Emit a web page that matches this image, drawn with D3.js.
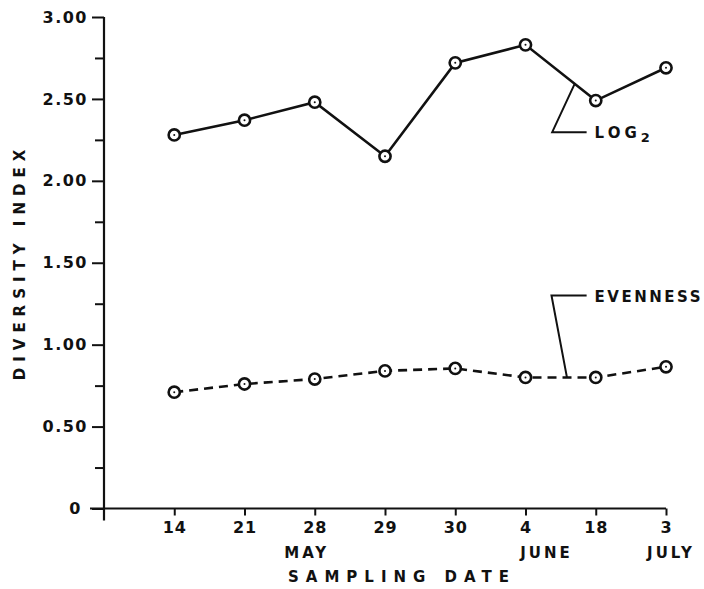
<!doctype html>
<html lang="en">
<head>
<meta charset="UTF-8">
<title>Diversity Index by Sampling Date</title>
<script src="https://d3js.org/d3.v7.min.js"></script>
<style>
    body { margin: 0; background: #fff; }
    svg { display: block; }
    text { font-family: "DejaVu Sans", sans-serif; font-weight: bold; fill: #111; }
    .axis path, .axis line { stroke: #111; stroke-width: 2; }
</style>
</head>
<body>
<svg width="704" height="589"></svg>
<script>
    // sampling dates (tick labels) and months under them
    const dates = ["14", "21", "28", "29", "30", "4", "18", "3"];
    const months = ["MAY", "JUNE", "JULY"];
    const monthAt = [3, 6, 8];          // tick position each month sits under

    // series
    const log2 = [2.28, 2.37, 2.48, 2.15, 2.72, 2.83, 2.49, 2.69];
    const evenness = [0.71, 0.76, 0.79, 0.84, 0.855, 0.80, 0.80, 0.865];

    const yMajor = [0, 0.5, 1, 1.5, 2, 2.5, 3];
    const yMinor = [0.25, 0.75, 1.25, 1.75, 2.25, 2.75];
    const yLabels = ["0", "0.50", "1.00", "1.50", "2.00", "2.50", "3.00"];

    const svg = d3.select("svg");
    const x = d3.scaleLinear().domain([0, 8]).range([104, 666]);
    const y = d3.scaleLinear().domain([0, 3]).range([508.5, 17]);

    // y axis: major ticks with labels
    const gy = svg.append("g").attr("class", "axis").attr("transform", `translate(${x(0)},0)`)
        .call(d3.axisLeft(y).tickValues(yMajor).tickSize(12).tickPadding(4)
            .tickFormat((d, i) => yLabels[i]));
    gy.select(".domain").remove();
    gy.selectAll("text").style("font-size", "16px").style("letter-spacing", "1.5px");
    gy.selectAll(".tick").filter(d => d === 0).select("text").attr("x", -22);

    const gyMinor = svg.append("g").attr("class", "axis").attr("transform", `translate(${x(0)},0)`)
        .call(d3.axisLeft(y).tickValues(yMinor).tickSize(9).tickFormat(""));
    gyMinor.select(".domain").remove();

    svg.append("line")
        .attr("x1", x(0)).attr("x2", x(0))
        .attr("y1", y(3)).attr("y2", y(0) + 12)
        .attr("stroke", "#111").attr("stroke-width", 2.2);

    // x axis
    const gx = svg.append("g").attr("class", "axis").attr("transform", `translate(0,${y(0)})`)
        .call(d3.axisBottom(x).tickValues(d3.range(1, 9)).tickSize(7).tickPadding(6)
            .tickFormat((d, i) => dates[i]));
    gx.select(".domain").remove();
    gx.selectAll("text").style("font-size", "16px").style("letter-spacing", "1px");

    svg.append("line")
        .attr("x1", x(0) - 14).attr("x2", x(8))
        .attr("y1", y(0)).attr("y2", y(0))
        .attr("stroke", "#111").attr("stroke-width", 2.2);

    const monthShift = [-8, 21, 5];
    svg.selectAll(".month").data(months).join("text")
        .attr("class", "month")
        .attr("x", (d, i) => x(monthAt[i]) + monthShift[i])
        .attr("y", 558)
        .attr("text-anchor", "middle")
        .style("font-size", "15px").style("letter-spacing", "3px")
        .text(d => d);

    svg.append("text")
        .attr("x", 402).attr("y", 582)
        .attr("text-anchor", "middle")
        .style("font-size", "15px").style("letter-spacing", "7px")
        .text("SAMPLING DATE");

    svg.append("text")
        .attr("transform", "translate(25,262) rotate(-90)")
        .attr("text-anchor", "middle")
        .style("font-size", "15px").style("letter-spacing", "6px")
        .text("DIVERSITY INDEX");

    // series lines
    const line = d3.line().x((d, i) => x(i + 1)).y(d => y(d));

    svg.append("path").datum(log2)
        .attr("d", line).attr("fill", "none")
        .attr("stroke", "#111").attr("stroke-width", 2.6);

    svg.append("path").datum(evenness)
        .attr("d", line).attr("fill", "none")
        .attr("stroke", "#111").attr("stroke-width", 2.6)
        .attr("stroke-dasharray", "9,6");

    function markers(data) {
        const g = svg.append("g").selectAll("g").data(data).join("g")
            .attr("transform", (d, i) => `translate(${x(i + 1)},${y(d)})`);
        g.append("circle").attr("r", 5.6).attr("fill", "#fff")
            .attr("stroke", "#111").attr("stroke-width", 2.6);
        g.append("circle").attr("r", 1).attr("fill", "#111");
    }
    markers(log2);
    markers(evenness);

    // leader lines with series names
    function leader(data, t, bendX, bendY, endX) {
        const y0 = data[5] + (data[6] - data[5]) * t;
        const pts = [[x(6 + t), y(y0)], [x(bendX), y(bendY)], [x(endX), y(bendY)]];
        svg.append("path").attr("d", d3.line()(pts))
            .attr("fill", "none").attr("stroke", "#111").attr("stroke-width", 2);
        return [x(endX) + 8, y(bendY)];
    }

    const [lx, ly] = leader(log2, 0.7, 6.38, 2.297, 6.87);
    const logText = svg.append("text").attr("x", lx).attr("y", ly + 6)
        .style("font-size", "15px").style("letter-spacing", "4px");
    logText.append("tspan").text("LOG");
    logText.append("tspan").attr("dy", 4).style("font-size", "13px").text("2");

    const [ex, ey] = leader(evenness, 0.59, 6.37, 1.30, 6.87);
    svg.append("text").attr("x", ex).attr("y", ey + 6)
        .style("font-size", "15px").style("letter-spacing", "2.5px")
        .text("EVENNESS");
</script>
</body>
</html>
